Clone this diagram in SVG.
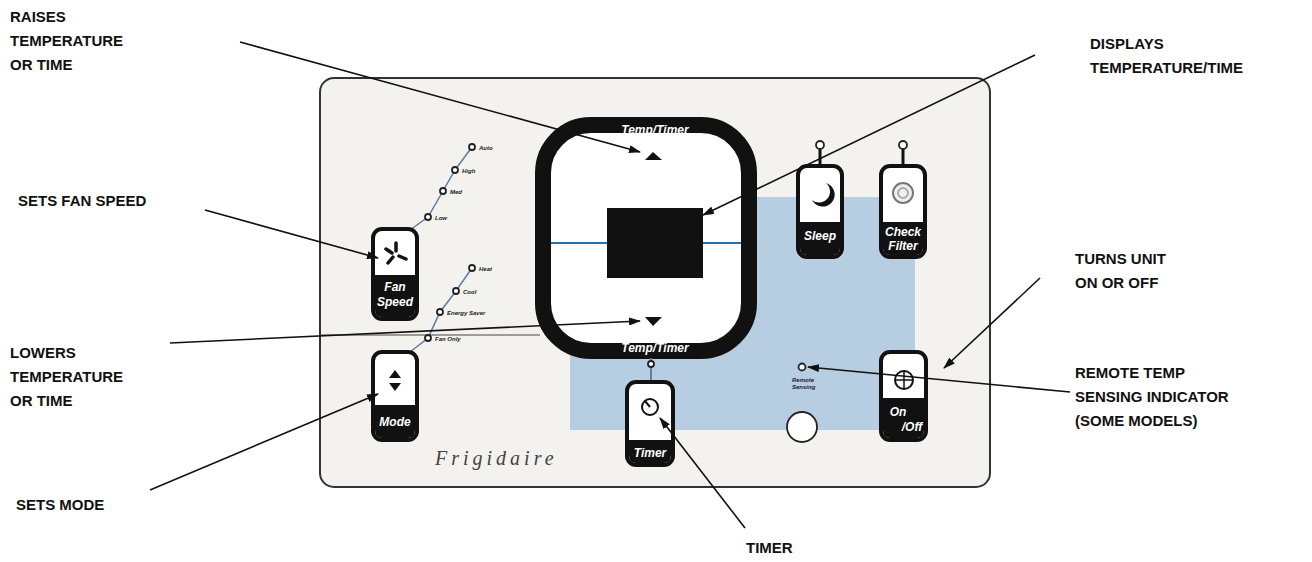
<svg xmlns="http://www.w3.org/2000/svg" width="1312" height="562" viewBox="0 0 1312 562">
<style>
.lbl{font-family:"Liberation Sans",Arial,sans-serif;font-weight:bold;font-size:15px;fill:#111}
.btn{fill:#fff;stroke:#111;stroke-width:4}
.bt{font-family:"Liberation Sans",Arial,sans-serif;font-weight:bold;font-style:italic;font-size:12px;fill:#fff;text-anchor:middle}
.sm{font-family:"Liberation Sans",Arial,sans-serif;font-weight:bold;font-style:italic;font-size:6px;fill:#222}
.led{fill:#fff;stroke:#222;stroke-width:1.8}
.ln{stroke:#111;stroke-width:1.6;fill:none;marker-end:url(#ah)}
</style>
<defs><marker id="ah" markerWidth="12" markerHeight="8" refX="11" refY="4" orient="auto" markerUnits="userSpaceOnUse"><path d="M0,0L12,4L0,8z" fill="#111"/></marker></defs>
<rect width="1312" height="562" fill="#fff"/>
<g id="panel">
<rect x="320" y="78" width="670" height="409" rx="14" fill="#f3f2ee" stroke="#333" stroke-width="2"/>
<path d="M700,197H915V430H570V300H700z" fill="#b7cde2"/>
<path d="M410,230L428,217L443,191L455,170L472,147M410,352L428,338L440,312L456,291L472,268" stroke="#5b7fa6" stroke-width="1.5" fill="none"/>
<line x1="320" y1="335" x2="540" y2="335" stroke="#444" stroke-width="1"/>
</g>
<g id="display">
<rect x="543" y="125" width="206" height="226" rx="48" fill="#fff" stroke="#111" stroke-width="16"/>
<text x="655" y="134" class="bt" font-size="11">Temp/Timer</text>
<text x="655" y="352" class="bt" font-size="11">Temp/Timer</text>
<line x1="551" y1="243" x2="741" y2="243" stroke="#2a6fb0" stroke-width="2"/>
<rect x="607" y="208" width="96" height="70" fill="#111"/>
<path d="M645,160L662,160L653,152z" fill="#111"/>
<path d="M645,317H662L653,326z" fill="#111"/>
</g>
<g id="fan">
<rect class="btn" x="373" y="229" width="44" height="90" rx="9"/>
<path d="M375,275H415V310Q415,317 408,317H382Q375,317 375,310z" fill="#111"/>
<text x="395" y="291" class="bt">Fan</text><text x="395" y="306" class="bt">Speed</text>
<g stroke="#111" stroke-width="3.5" stroke-linecap="round"><path d="M396,251L396,243M399,256L406,259M393,257L388,263M392,253L386,249"/></g>
<circle class="led" cx="428" cy="217" r="3"/><text x="435" y="220" class="sm">Low</text>
<circle class="led" cx="443" cy="191" r="3"/><text x="450" y="194" class="sm">Med</text>
<circle class="led" cx="455" cy="170" r="3"/><text x="462" y="173" class="sm">High</text>
<circle class="led" cx="472" cy="147" r="3"/><text x="479" y="150" class="sm">Auto</text>
</g>
<g id="mode">
<rect class="btn" x="373" y="352" width="44" height="88" rx="9"/>
<path d="M375,405H415V430Q415,438 408,438H382Q375,438 375,430z" fill="#111"/>
<text x="395" y="426" class="bt">Mode</text>
<path d="M389,378L395,370L401,378zM389,383L395,391L401,383z" fill="#111"/>
<circle class="led" cx="428" cy="338" r="3"/><text x="435" y="341" class="sm">Fan Only</text>
<circle class="led" cx="440" cy="312" r="3"/><text x="447" y="315" class="sm">Energy Saver</text>
<circle class="led" cx="456" cy="291" r="3"/><text x="463" y="294" class="sm">Cool</text>
<circle class="led" cx="472" cy="268" r="3"/><text x="479" y="271" class="sm">Heat</text>
</g>
<g id="sleep">
<line x1="820" y1="148" x2="820" y2="165" stroke="#111" stroke-width="3"/><circle class="led" cx="820" cy="145" r="4"/>
<rect class="btn" x="798" y="166" width="44" height="91" rx="9"/>
<path d="M800,222H840V248Q840,255 833,255H807Q800,255 800,248z" fill="#111"/>
<text x="820" y="240" class="bt">Sleep</text>
<path d="M826,183A12,12 0 1,1 812,200A10,10 0 0,0 826,183z" fill="#111"/>
</g>
<g id="filter">
<line x1="903" y1="148" x2="903" y2="165" stroke="#111" stroke-width="3"/><circle class="led" cx="903" cy="145" r="4"/>
<rect class="btn" x="881" y="166" width="44" height="91" rx="9"/>
<path d="M883,222H923V248Q923,255 916,255H890Q883,255 883,248z" fill="#111"/>
<text x="903" y="236" class="bt" font-size="11">Check</text><text x="903" y="250" class="bt" font-size="11">Filter</text>
<circle cx="903" cy="193" r="10" fill="#eee" stroke="#777" stroke-width="2"/><circle cx="903" cy="193" r="5" fill="none" stroke="#999" stroke-width="1.5"/>
</g>
<g id="timer">
<line x1="651" y1="358" x2="651" y2="382" stroke="#5b7fa6" stroke-width="2"/><circle class="led" cx="651" cy="364" r="3"/>
<rect class="btn" x="627" y="382" width="46" height="83" rx="9"/>
<path d="M629,440H671V455Q671,463 664,463H636Q629,463 629,455z" fill="#111"/>
<text x="650" y="457" class="bt">Timer</text>
<circle cx="650" cy="407" r="8" fill="none" stroke="#111" stroke-width="2"/><path d="M650,407L645,401" stroke="#111" stroke-width="2"/>
</g>
<g id="onoff">
<rect class="btn" x="881" y="352" width="45" height="88" rx="9"/>
<path d="M883,398H924V430Q924,438 917,438H890Q883,438 883,430z" fill="#111"/>
<text x="898" y="416" class="bt" font-size="11">On</text><text x="912" y="431" class="bt" font-size="11">/Off</text>
<circle cx="904" cy="380" r="9" fill="none" stroke="#111" stroke-width="2"/><path d="M895,380H913M904,371V389" stroke="#111" stroke-width="1.5"/>
</g>
<g id="remote">
<circle class="led" cx="802" cy="367" r="3.5"/>
<text x="792" y="382" class="sm">Remote</text><text x="792" y="389" class="sm">Sensing</text>
<circle cx="802" cy="427" r="15" fill="#fff" stroke="#222" stroke-width="1.8"/>
<text x="435" y="465" font-family="Liberation Serif,serif" font-style="italic" font-size="20" letter-spacing="4" fill="#444">Frigidaire</text>
</g>
<g id="labels">
<text class="lbl" x="10" y="22">RAISES</text><text class="lbl" x="10" y="46">TEMPERATURE</text><text class="lbl" x="10" y="70">OR TIME</text>
<text class="lbl" x="18" y="206">SETS  FAN SPEED</text>
<text class="lbl" x="10" y="358">LOWERS</text><text class="lbl" x="10" y="382">TEMPERATURE</text><text class="lbl" x="10" y="406">OR TIME</text>
<text class="lbl" x="16" y="510">SETS MODE</text>
<text class="lbl" x="746" y="553">TIMER</text>
<text class="lbl" x="1090" y="49">DISPLAYS</text><text class="lbl" x="1090" y="73">TEMPERATURE/TIME</text>
<text class="lbl" x="1075" y="264">TURNS UNIT</text><text class="lbl" x="1075" y="288">ON OR OFF</text>
<text class="lbl" x="1075" y="378">REMOTE TEMP</text><text class="lbl" x="1075" y="402">SENSING INDICATOR</text><text class="lbl" x="1075" y="426">(SOME MODELS)</text>
</g>
<g id="connectors">
<line class="ln" x1="240" y1="42" x2="640" y2="152"/>
<line class="ln" x1="1035" y1="55" x2="703" y2="215"/>
<line class="ln" x1="205" y1="210" x2="378" y2="258"/>
<line class="ln" x1="170" y1="343" x2="640" y2="321"/>
<line class="ln" x1="150" y1="490" x2="378" y2="394"/>
<line class="ln" x1="745" y1="528" x2="660" y2="418"/>
<line class="ln" x1="1040" y1="278" x2="944" y2="368"/>
<line class="ln" x1="1070" y1="392" x2="808" y2="367"/>
</g>
</svg>
